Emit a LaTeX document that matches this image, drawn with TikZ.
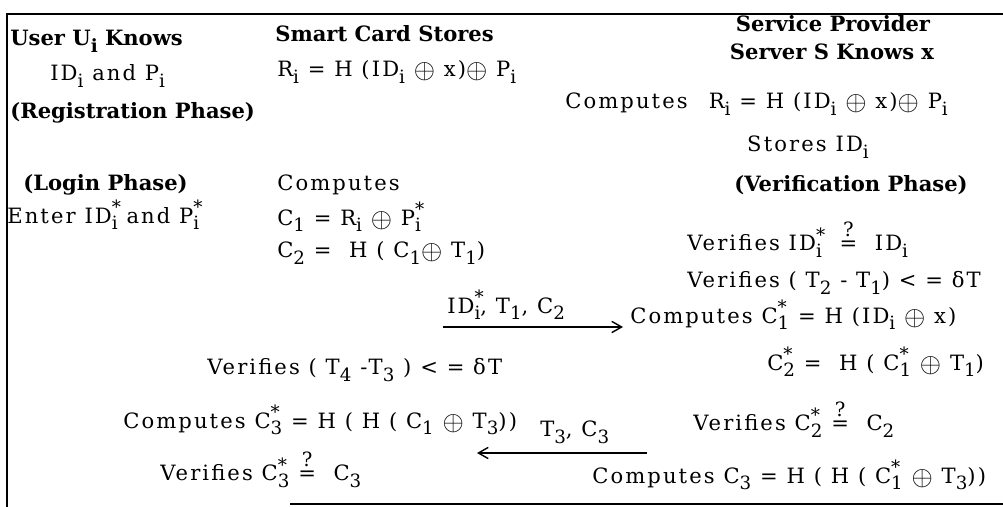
\documentclass[tikz,border=0pt]{standalone}
\usepackage{fontspec}
\setmainfont{DejaVu Serif}[LetterSpace=10,BoldFeatures={LetterSpace=0}]
\usepackage{graphicx}
\usepackage{tikz}
\usetikzlibrary{arrows.meta}
\newcommand{\isub}[1]{\raisebox{-0.32em}{\fontsize{13}{13}\selectfont #1}}
\newcommand{\stsub}[2]{\rlap{\raisebox{0.45em}{\fontsize{13}{13}\selectfont #1}}\isub{#2}}
\newcommand{\qeq}{\shortstack{{\fontsize{14}{14}\selectfont ?}\\=}}
\newcommand{\xr}{\raisebox{-0.1em}{\scalebox{1.35}{$\oplus$}}}
\tikzset{
  txt/.style={anchor=west,inner sep=0pt},
  hdr/.style={txt,font=\fontsize{15}{18}\selectfont\bfseries},
  msg/.style={->,line width=1pt}
}

\begin{document}
\begin{tikzpicture}[x=0.25mm,y=-0.25mm,>={Straight Barb[length=7pt,width=8pt]},font=\fontsize{15}{18}\selectfont]
\useasboundingbox (0,0) rectangle (1003,507);
\draw[line width=1.3pt] (7,507)--(7,14)--(1003,14);
\draw[line width=1.3pt] (290,504)--(1003,504);

\node[hdr] (user) at (10,41) {User U\isub{i} Knows};
\node[hdr] (card) at (275,34) {Smart Card Stores};
\node[hdr,anchor=center] (sp) at (833,24) {Service Provider};
\node[hdr,anchor=center] (srv) at (832,52) {Server S Knows x};
\node[txt] (know) at (50,76) {ID\isub{i} and P\isub{i}};
\node[txt] (ri) at (277,72) {R\isub{i} = H (ID\isub{i} \xr{} x)\xr{} P\isub{i}};
\node[hdr] (reg) at (10,113) {(Registration Phase)};
\node[txt] (sri) at (565,104) {Computes\quad R\isub{i} = H (ID\isub{i} \xr{} x)\xr{} P\isub{i}};
\node[txt,anchor=center] (sid) at (808,147) {Stores ID\isub{i}};

\node[hdr] (login) at (23,185) {(Login Phase)};
\node[txt] (comp) at (277,185) {Computes};
\node[hdr,anchor=center] (ver) at (851,185) {(Verification Phase)};
\node[txt] (enter) at (7,215) {Enter ID\stsub{*}{i} and P\stsub{*}{i}};
\node[txt] (c1) at (277,217) {C\isub{1} = R\isub{i} \xr{} P\stsub{*}{i}};
\node[txt] (vid) at (687,240) {Verifies ID\stsub{*}{i}~ \qeq~ ID\isub{i}};
\node[txt] (c2) at (277,253) {C\isub{2} =~ H ( C\isub{1}\xr{} T\isub{1})};
\node[txt] (vt2) at (687,283) {Verifies ( T\isub{2} - T\isub{1}) < = δT};

\node[txt] (m1) at (447,305) {ID\stsub{*}{i}, T\isub{1}, C\isub{2}};
\coordinate (m1s) at (443,327);
\coordinate (m1e) at (623,327);
\draw[msg] (m1s)--(m1e);
\node[txt] (sc1) at (630,315) {Computes C\stsub{*}{1} = H (ID\isub{i} \xr{} x)};
\node[txt] (vt4) at (207,370) {Verifies ( T\isub{4} -T\isub{3} ) < = δT};
\node[txt] (sc2) at (767,362) {C\stsub{*}{2} =~ H ( C\stsub{*}{1} \xr{} T\isub{1})};
\node[txt] (uc3) at (123,420) {Computes C\stsub{*}{3} = H ( H ( C\isub{1} \xr{} T\isub{3}))};
\node[txt] (m2) at (540,432) {T\isub{3}, C\isub{3}};
\node[txt] (vc2) at (693,420) {Verifies C\stsub{*}{2} \qeq~ C\isub{2}};
\coordinate (m2s) at (647,453);
\coordinate (m2e) at (477,453);
\draw[msg] (m2s)--(m2e);
\node[txt] (vc3) at (160,470) {Verifies C\stsub{*}{3} \qeq~ C\isub{3}};
\node[txt] (sc3) at (592,475) {Computes C\isub{3} = H ( H ( C\stsub{*}{1} \xr{} T\isub{3}))};
\end{tikzpicture}
\end{document}
